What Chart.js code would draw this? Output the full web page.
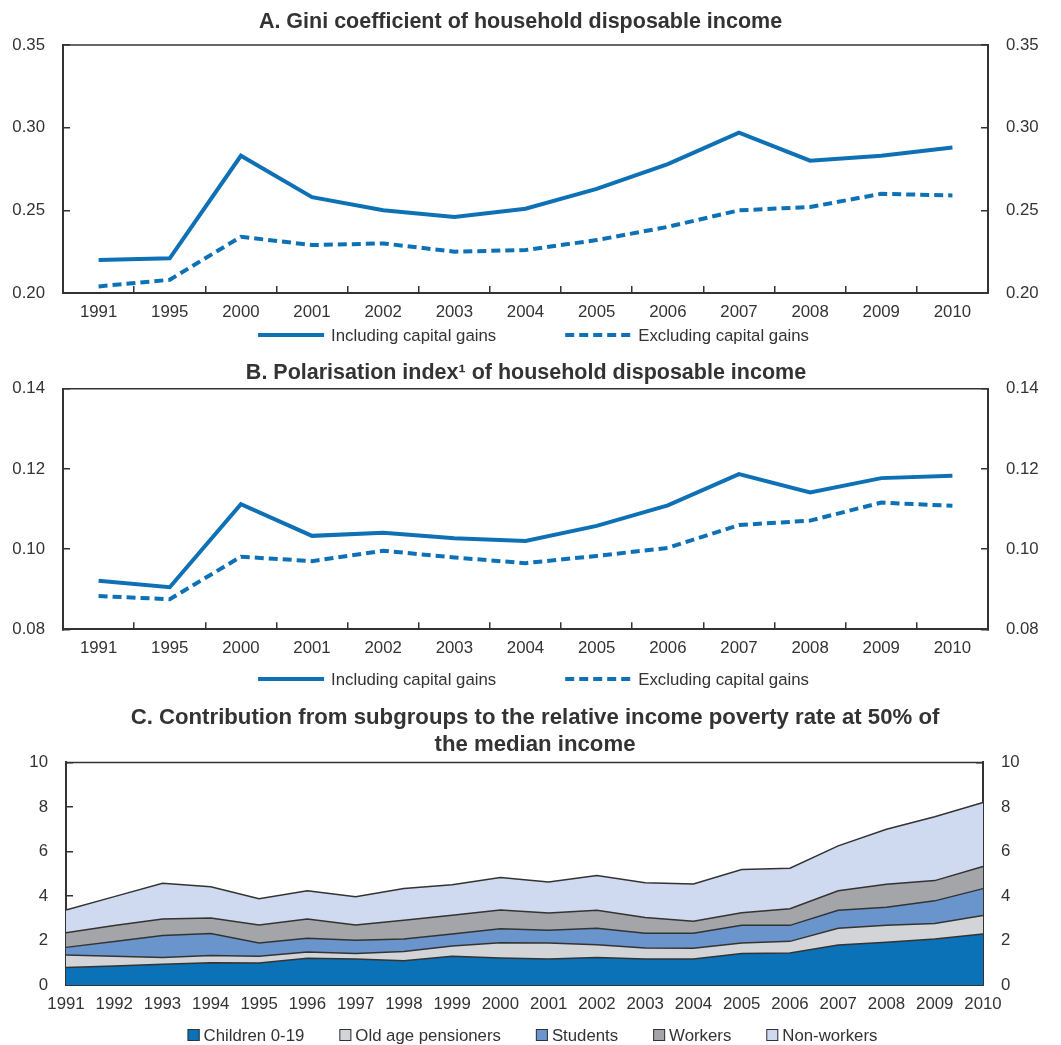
<!DOCTYPE html>
<html>
<head>
<meta charset="utf-8">
<script src="https://cdn.jsdelivr.net/npm/chart.js@4.4.1/dist/chart.umd.min.js"></script>
<style>
  html, body { margin: 0; padding: 0; background: #fff; }
  .panel { position: absolute; left: 0; width: 1061px; }
  #panelA { top: 0; height: 350px; }
  #panelB { top: 350px; height: 345px; }
  #panelC { top: 695px; height: 350px; }
</style>
</head>
<body>
<div class="panel" id="panelA"><canvas id="chartA"></canvas></div>
<div class="panel" id="panelB"><canvas id="chartB"></canvas></div>
<div class="panel" id="panelC"><canvas id="chartC"></canvas></div>
<script>
"use strict";

const years = ["1991", "1995", "2000", "2001", "2002", "2003", "2004", "2005", "2006", "2007", "2008", "2009", "2010"];

const giniIncl = [0.220, 0.221, 0.283, 0.258, 0.250, 0.246, 0.251, 0.263, 0.278, 0.297, 0.280, 0.283, 0.288];
const giniExcl = [0.204, 0.208, 0.234, 0.229, 0.230, 0.225, 0.226, 0.232, 0.240, 0.250, 0.252, 0.260, 0.259];

const polIncl = [0.0921, 0.0905, 0.1112, 0.1033, 0.1041, 0.1027, 0.1020, 0.1058, 0.1109, 0.1187, 0.1141, 0.1177, 0.1183];
const polExcl = [0.0883, 0.0875, 0.0981, 0.0970, 0.0996, 0.0979, 0.0965, 0.0983, 0.1003, 0.1060, 0.1071, 0.1116, 0.1108];

const povertyYears = ["1991", "1992", "1993", "1994", "1995", "1996", "1997", "1998", "1999", "2000",
  "2001", "2002", "2003", "2004", "2005", "2006", "2007", "2008", "2009", "2010"];
const children = [0.79, 0.85, 0.93, 1.00, 0.99, 1.20, 1.17, 1.09, 1.29, 1.21, 1.17, 1.23, 1.17, 1.17, 1.41, 1.44, 1.80, 1.92, 2.07, 2.29];
const pensioners = [0.56, 0.44, 0.30, 0.32, 0.30, 0.28, 0.25, 0.41, 0.46, 0.69, 0.72, 0.58, 0.49, 0.48, 0.48, 0.52, 0.75, 0.76, 0.69, 0.83];
const students = [0.34, 0.66, 0.99, 0.99, 0.60, 0.62, 0.59, 0.57, 0.54, 0.63, 0.57, 0.74, 0.66, 0.67, 0.79, 0.72, 0.81, 0.81, 1.02, 1.21];
const workers = [0.66, 0.72, 0.75, 0.70, 0.81, 0.87, 0.69, 0.84, 0.84, 0.84, 0.78, 0.81, 0.71, 0.54, 0.57, 0.75, 0.87, 1.04, 0.91, 0.99];
const nonWorkers = [1.02, 1.30, 1.60, 1.40, 1.18, 1.26, 1.27, 1.42, 1.37, 1.46, 1.39, 1.56, 1.56, 1.68, 1.94, 1.82, 2.02, 2.47, 2.87, 2.88];

const FONT = "'Liberation Sans', Arial, sans-serif";
const INK = "#333333";
const BLUE = "#0f71b5";
const TEXT_SIZE = 16.8;

Chart.defaults.font.family = FONT;
Chart.defaults.font.size = TEXT_SIZE;
Chart.defaults.color = INK;
Chart.defaults.animation = false;

// closes the plot frame along the top edge
const topFrame = {
  id: "topFrame",
  afterDraw(chart) {
    const a = chart.chartArea;
    const ctx = chart.ctx;
    ctx.save();
    ctx.strokeStyle = INK;
    ctx.lineWidth = 1.5;
    ctx.beginPath();
    ctx.moveTo(a.left, a.top);
    ctx.lineTo(a.right, a.top);
    ctx.stroke();
    ctx.restore();
  }
};

// one-row key under the x labels, built from the datasets
const keyBelow = {
  id: "keyBelow",
  afterDraw(chart, args, opts) {
    const ctx = chart.ctx;
    const sets = chart.data.datasets;
    ctx.save();
    ctx.font = TEXT_SIZE + "px " + FONT;
    const widths = sets.map(d => opts.swatch + opts.gap + ctx.measureText(d.label).width);
    const total = widths.reduce((a, b) => a + b, 0) + opts.spacing * (sets.length - 1);
    let x = chart.width / 2 + opts.shift - total / 2;
    const y = chart.chartArea.bottom + opts.offset;
    sets.forEach((d, i) => {
      if (opts.kind === "line") {
        ctx.strokeStyle = d.borderColor;
        ctx.lineWidth = d.borderWidth;
        ctx.setLineDash(d.borderDash || []);
        ctx.beginPath();
        ctx.moveTo(x, y);
        ctx.lineTo(x + opts.swatch, y);
        ctx.stroke();
        ctx.setLineDash([]);
      } else {
        const s = opts.swatch;
        ctx.fillStyle = d.backgroundColor;
        ctx.fillRect(x, y - s / 2, s, s);
        ctx.strokeStyle = INK;
        ctx.lineWidth = 1;
        ctx.strokeRect(x + 0.5, y - s / 2 + 0.5, s - 1, s - 1);
      }
      ctx.fillStyle = INK;
      ctx.textAlign = "left";
      ctx.textBaseline = "middle";
      ctx.fillText(d.label, x + opts.swatch + opts.gap, y + 1);
      x += widths[i] + opts.spacing;
    });
    ctx.restore();
  }
};

function yAxis(pos, min, max, step, digits, width) {
  return {
    position: pos,
    min: min,
    max: max,
    afterFit: s => { s.width = width; },
    border: { color: INK, width: 2 },
    grid: { drawOnChartArea: false, drawTicks: true, tickLength: -7, color: INK, lineWidth: 1.5 },
    ticks: {
      stepSize: step,
      padding: 25,
      callback: v => Number(v).toFixed(digits)
    }
  };
}

function xAxis(offset) {
  return {
    offset: offset,
    afterFit: s => { s.height = 30; },
    border: { color: INK, width: 2 },
    grid: { offset: offset, drawOnChartArea: false, tickLength: -7, color: INK, lineWidth: 1.5 },
    ticks: { padding: 16, maxRotation: 0, autoSkip: false }
  };
}

function titleOpts(text, size, top, bottom, lineHeight) {
  return {
    display: true,
    text: text,
    color: INK,
    font: { size: size, weight: "bold", lineHeight: lineHeight },
    padding: { top: top, bottom: bottom }
  };
}

// side padding nudges the centred title; the axis widths keep the frame in place
function lineChart(id, title, pad, side, bottomPad, keyOffset, incl, excl, min, max, step) {
  new Chart(document.getElementById(id), {
    type: "line",
    data: {
      labels: years,
      datasets: [
        {
          label: "Including capital gains",
          data: incl,
          borderColor: BLUE,
          backgroundColor: BLUE,
          borderWidth: 4,
          pointRadius: 0,
          tension: 0,
          yAxisID: "y"
        },
        {
          label: "Excluding capital gains",
          data: excl,
          borderColor: BLUE,
          backgroundColor: BLUE,
          borderWidth: 4,
          borderDash: [9, 5],
          pointRadius: 0,
          tension: 0,
          yAxisID: "y"
        }
      ]
    },
    options: {
      responsive: true,
      maintainAspectRatio: false,
      layout: { padding: { bottom: bottomPad, right: side } },
      scales: {
        x: xAxis(true),
        y: yAxis("left", min, max, step, 2, 63),
        y2: yAxis("right", min, max, step, 2, 73 - side)
      },
      plugins: {
        title: titleOpts(title, 21.5, pad[0], pad[1], 1.2),
        legend: { display: false },
        tooltip: { enabled: false },
        keyBelow: { kind: "line", swatch: 66, gap: 7, spacing: 69, shift: 3, offset: keyOffset }
      }
    },
    plugins: [topFrame, keyBelow]
  });
}

lineChart("chartA", "A. Gini coefficient of household disposable income",
  [9.1, 10.1], 20, 27, 42, giniIncl, giniExcl, 0.20, 0.35, 0.05);

lineChart("chartB", "B. Polarisation index\u00B9 of household disposable income",
  [10.1, 2.8], 9, 35.7, 49.7, polIncl, polExcl, 0.08, 0.14, 0.02);

function area(label, data, color, fill) {
  return {
    label: label,
    data: data,
    backgroundColor: color,
    borderColor: INK,
    borderWidth: 1.5,
    pointRadius: 0,
    tension: 0,
    fill: fill
  };
}

function countAxis(pos, width) {
  const ax = yAxis(pos, 0, 10, 2, 0, width);
  ax.stacked = true;
  return ax;
}

new Chart(document.getElementById("chartC"), {
  type: "line",
  data: {
    labels: povertyYears,
    datasets: [
      area("Children 0-19", children, "#0b72b7", "origin"),
      area("Old age pensioners", pensioners, "#d3d4d7", "-1"),
      area("Students", students, "#6a95cc", "-1"),
      area("Workers", workers, "#a4a5a9", "-1"),
      area("Non-workers", nonWorkers, "#cfd9ef", "-1")
    ]
  },
  options: {
    responsive: true,
    maintainAspectRatio: false,
    layout: { padding: { bottom: 30, left: 9 } },
    scales: {
      x: xAxis(false),
      y: countAxis("left", 57),
      y2: countAxis("right", 78)
    },
    plugins: {
      title: titleOpts(["C. Contribution from subgroups to the relative income poverty rate at 50% of", "the median income"],
        22.2, 9.2, 4.2, 1.216),
      legend: { display: false },
      tooltip: { enabled: false },
      keyBelow: { kind: "box", swatch: 12, gap: 4, spacing: 35, shift: 2, offset: 50 }
    }
  },
  plugins: [topFrame, keyBelow]
});
</script>
</body>
</html>
